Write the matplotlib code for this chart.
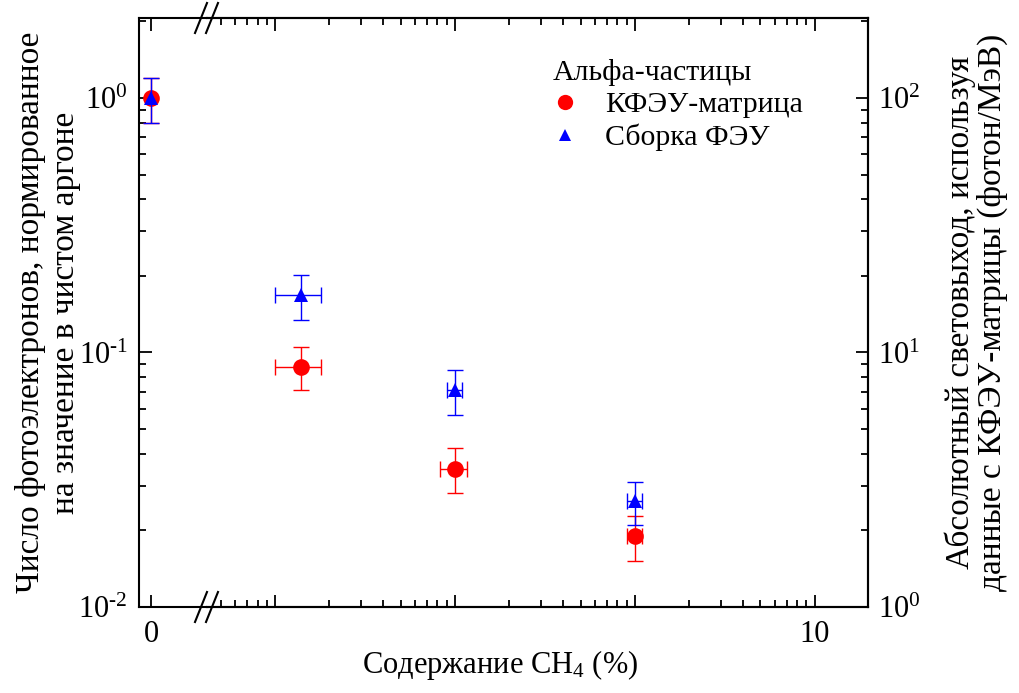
import matplotlib
matplotlib.use("Agg")
import matplotlib.pyplot as plt
from matplotlib.lines import Line2D
from matplotlib.ticker import FixedLocator, FixedFormatter, LogLocator, NullFormatter

plt.rcParams["font.family"] = ["Liberation Serif", "DejaVu Serif"]
plt.rcParams["mathtext.fontset"] = "custom"
plt.rcParams["mathtext.rm"] = "Liberation Serif"
plt.rcParams["mathtext.it"] = "Liberation Serif:italic"
plt.rcParams["mathtext.bf"] = "Liberation Serif:bold"

# CH4 content (%), 0 = pure argon
ch4_sipm = [0.0, 0.014, 0.1, 1.0]
ch4_sipm_err = [0.0, 0.004, 0.017, 0.1]
npe_sipm = [1.0, 0.088, 0.035, 0.019]
npe_sipm_err = [0.2, 0.017, 0.007, 0.0038]

ch4_pmt = [0.0, 0.014, 0.1, 1.0]
ch4_pmt_err = [0.0, 0.004, 0.010, 0.1]
npe_pmt = [1.0, 0.168, 0.071, 0.026]
npe_pmt_err = [0.2, 0.034, 0.014, 0.005]

# absolute light yield scale: photons/MeV per unit of normalised signal
ly_scale = 100.0

left_ticks = [0.01, 0.1, 1.0]
left_ticklabels = [r"$10^{\text{-}2}$", r"$10^{\text{-}1}$", r"$10^{0}$"]
right_ticks = [1.0, 10.0, 100.0]
right_ticklabels = [r"$10^{0}$", r"$10^{1}$", r"$10^{2}$"]
x_ticks = [0.01, 0.1, 1, 10]
x_ticklabels = ["", "", "", "10"]

label_sipm = "КФЭУ-матрица"
label_pmt = "Сборка ФЭУ"
legend_title = "Альфа-частицы"
xlabel = "Содержание CH$_4$ (%)"
ylabel_left = "Число фотоэлектронов, нормированное\nна значение в чистом аргоне"
ylabel_right = "Абсолютный световыход, используя\nданные с КФЭУ-матрицы (фотон/МэВ)"

W, H = 1019, 693
fig = plt.figure(figsize=(W / 100, H / 100), dpi=100)

x_left, x_brk, x_right = 139 / W, 207 / W, 868 / W
y_bot, y_top = 1 - 607 / H, 1 - 18 / H

ax0 = fig.add_axes([x_left, y_bot, x_brk - x_left, y_top - y_bot])
ax = fig.add_axes([x_brk, y_bot, x_right - x_brk, y_top - y_bot], sharey=ax0)
axr = ax.twinx()

ylim = (0.01, 2.06)
ax0.set_yscale("log")
ax0.set_ylim(*ylim)
ax0.set_xlim(-1.0, 4.667)
ax.set_xscale("log")
ax.set_xlim(0.00419, 19.8)
axr.set_yscale("log")
axr.set_ylim(ylim[0] * ly_scale, ylim[1] * ly_scale)

TS = 22
YLS = 24
spine_w = 1.5
for a in (ax0, ax, axr):
    for s in a.spines.values():
        s.set_linewidth(spine_w)
ax0.spines["right"].set_visible(False)
ax.spines["left"].set_visible(False)
axr.spines["left"].set_visible(False)

# left y axis (on the "zero" panel)
ax0.yaxis.set_major_locator(FixedLocator(left_ticks))
ax0.yaxis.set_major_formatter(FixedFormatter(left_ticklabels))
ax0.yaxis.set_minor_locator(LogLocator(base=10, subs=range(2, 10), numticks=20))
ax0.yaxis.set_minor_formatter(NullFormatter())
ax0.tick_params(axis="y", which="major", direction="in", length=9, width=1.3,
                labelsize=TS, pad=8, right=False)
ax0.tick_params(axis="y", which="minor", direction="in", length=5, width=1.3, right=False)
ax0.xaxis.set_major_locator(FixedLocator([0]))
ax0.xaxis.set_major_formatter(FixedFormatter(["0"]))
ax0.tick_params(axis="x", which="major", direction="in", length=9, width=1.3,
                labelsize=TS, pad=9, top=True)

# log x axis
ax.xaxis.set_major_locator(FixedLocator(x_ticks))
ax.xaxis.set_major_formatter(FixedFormatter(x_ticklabels))
ax.xaxis.set_minor_locator(LogLocator(base=10, subs=range(2, 10), numticks=20))
ax.xaxis.set_minor_formatter(NullFormatter())
ax.tick_params(axis="x", which="major", direction="in", length=9, width=1.3,
               labelsize=TS, pad=9, top=True)
ax.tick_params(axis="x", which="minor", direction="in", length=5, width=1.3, top=True)
ax.tick_params(axis="y", which="both", left=False, right=False,
               labelleft=False, labelright=False)

# right y axis
axr.yaxis.set_major_locator(FixedLocator(right_ticks))
axr.yaxis.set_major_formatter(FixedFormatter(right_ticklabels))
axr.yaxis.set_minor_locator(LogLocator(base=10, subs=range(2, 10), numticks=20))
axr.yaxis.set_minor_formatter(NullFormatter())
axr.tick_params(axis="y", which="major", direction="in", length=9, width=1.3,
                labelsize=TS, pad=7)
axr.tick_params(axis="y", which="minor", direction="in", length=5, width=1.3)


def draw_series(xs, xerr, ys, yerr, color, marker, ms, zorder):
    for x, xe, y, ye in zip(xs, xerr, ys, yerr):
        target = ax0 if x == 0 else ax
        target.errorbar([x], [y], xerr=[xe] if xe > 0 else None, yerr=[ye],
                        fmt="none", ecolor=color, elinewidth=1.0, capsize=5.5,
                        capthick=1.0, zorder=zorder, clip_on=False)
        target.plot([x], [y], ls="none", marker=marker, color=color, ms=ms,
                    mew=0, zorder=zorder + 0.5, clip_on=False)


draw_series(ch4_sipm, ch4_sipm_err, npe_sipm, npe_sipm_err, "#ff0000", "o", 12, 3)
draw_series(ch4_pmt, ch4_pmt_err, npe_pmt, npe_pmt_err, "#0000ff", "^", 10.5, 4)

LS = 21.5
handles = [
    Line2D([], [], ls="none", marker="o", color="#ff0000", ms=11, mew=0),
    Line2D([], [], ls="none", marker="^", color="#0000ff", ms=8.5, mew=0),
]
leg = ax.legend(handles, [label_sipm, label_pmt], title=legend_title,
                loc="upper left", bbox_to_anchor=(532 / W, 1 - 38 / H),
                bbox_transform=fig.transFigure, frameon=False,
                fontsize=LS, title_fontsize=LS, alignment="left",
                handlelength=0.8, handletextpad=0.94, labelspacing=0.18,
                borderpad=0.2)

# axis break marks on bottom and top spines
def brk_mark(xc, yc):
    dx, dy = 6, 15
    fig.add_artist(Line2D([(xc - dx) / W, (xc + dx) / W],
                          [1 - (yc + dy) / H, 1 - (yc - dy) / H],
                          color="black", lw=1.5, transform=fig.transFigure))

for yc in (607, 18):
    brk_mark(201, yc)
    brk_mark(212, yc)

fig.text(48 / W, 0.5 * (y_bot + y_top), ylabel_left, rotation=90, ha="center",
         va="center", fontsize=YLS, multialignment="center", linespacing=1.15)
fig.text(976 / W, 0.5 * (y_bot + y_top), ylabel_right, rotation=90, ha="center",
         va="center", fontsize=YLS, multialignment="center", linespacing=1.05)
fig.text(500 / W, 1 - 665 / H, xlabel, ha="center", va="center", fontsize=TS)

fig.savefig("out.png", dpi=100)
